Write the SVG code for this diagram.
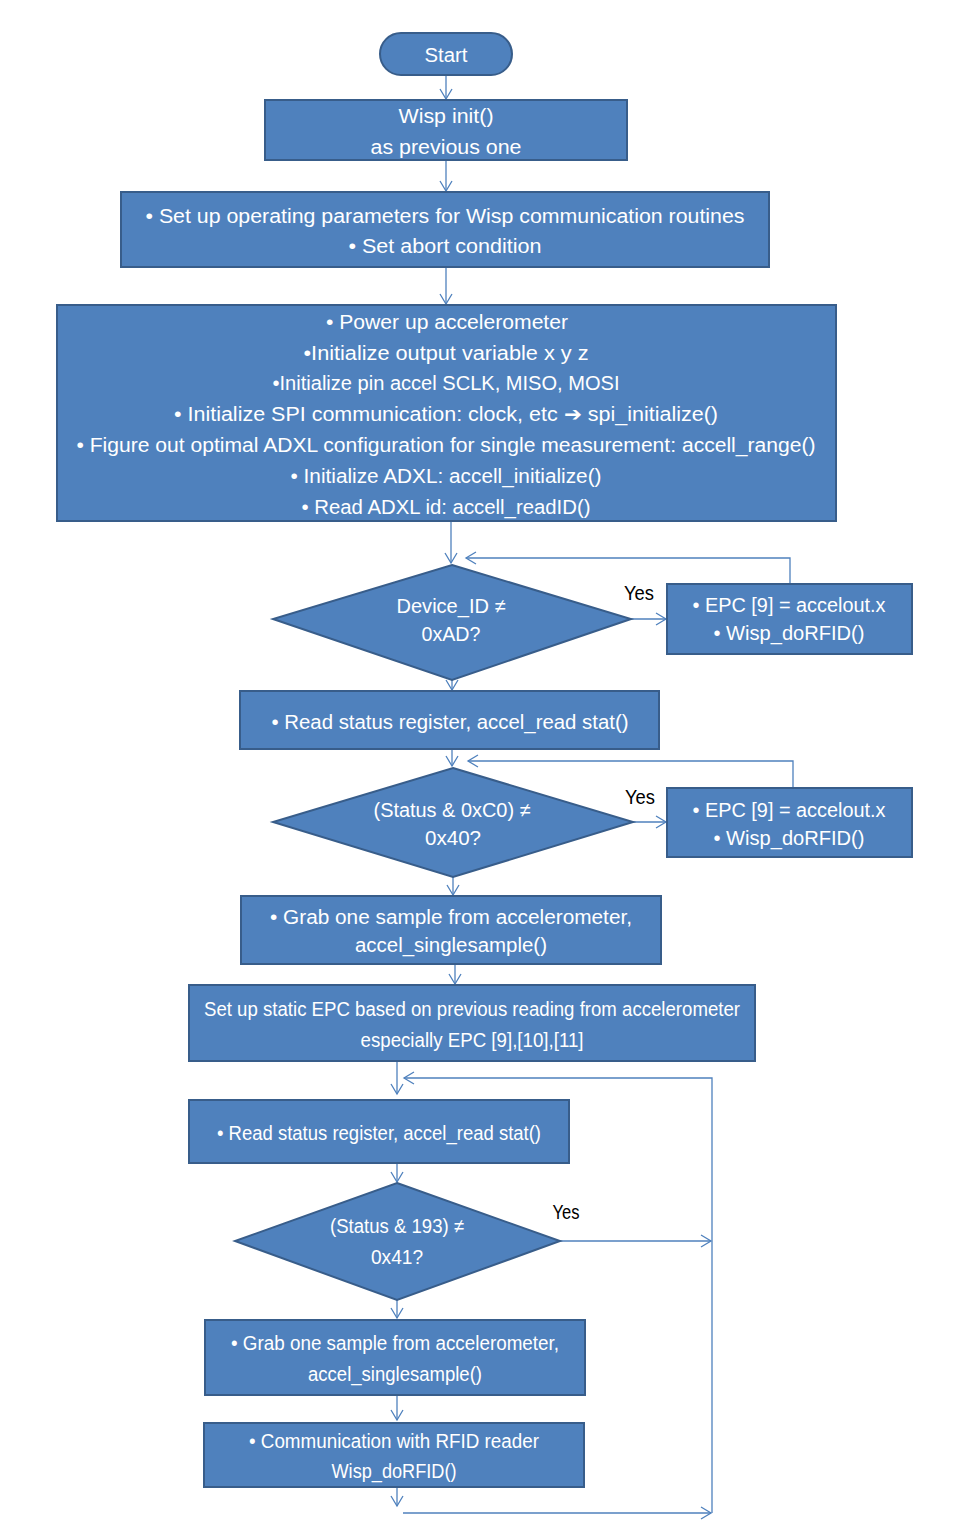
<svg xmlns="http://www.w3.org/2000/svg" width="965" height="1537" viewBox="0 0 965 1537">
<defs>
<style>
.n{fill:#4F81BD;stroke:#385D8A;stroke-width:2}
.t{font-family:"Liberation Sans",Arial,sans-serif;font-size:20px;fill:#ffffff;text-anchor:middle}
.l{font-family:"Liberation Sans",Arial,sans-serif;font-size:20px;fill:#000000;text-anchor:middle}
.c{fill:none;stroke:#4F81BD;stroke-width:1.3}
</style>
<marker id="a" markerUnits="userSpaceOnUse" markerWidth="14" markerHeight="14" viewBox="0 0 14 14" refX="12" refY="7" orient="auto">
<path d="M2,1 L12,7 L2,13" fill="none" stroke="#4F81BD" stroke-width="1.3"/>
</marker>
</defs>
<rect width="965" height="1537" fill="#ffffff"/>
<g id="connectors">
<line class="c" x1="446" y1="75" x2="446" y2="99" marker-end="url(#a)"/>
<line class="c" x1="446" y1="160" x2="446" y2="191" marker-end="url(#a)"/>
<line class="c" x1="446" y1="267" x2="446" y2="304" marker-end="url(#a)"/>
<line class="c" x1="451" y1="521" x2="451" y2="563" marker-end="url(#a)"/>
<polyline class="c" points="790,584 790,558 466,558" marker-end="url(#a)"/>
<line class="c" x1="631" y1="619" x2="666" y2="619" marker-end="url(#a)"/>
<line class="c" x1="452" y1="680" x2="452" y2="690" marker-end="url(#a)"/>
<line class="c" x1="452" y1="749" x2="452" y2="766" marker-end="url(#a)"/>
<polyline class="c" points="793,788 793,761 468,761" marker-end="url(#a)"/>
<line class="c" x1="633" y1="822" x2="666" y2="822" marker-end="url(#a)"/>
<line class="c" x1="453" y1="877" x2="453" y2="895" marker-end="url(#a)"/>
<line class="c" x1="455" y1="964" x2="455" y2="984" marker-end="url(#a)"/>
<line class="c" x1="397" y1="1061" x2="397" y2="1094" marker-end="url(#a)"/>
<polyline class="c" points="712,1513 712,1078 404,1078" marker-end="url(#a)"/>
<line class="c" x1="397" y1="1163" x2="397" y2="1182" marker-end="url(#a)"/>
<line class="c" x1="560" y1="1241" x2="711" y2="1241" marker-end="url(#a)"/>
<line class="c" x1="397" y1="1300" x2="397" y2="1318" marker-end="url(#a)"/>
<line class="c" x1="397" y1="1395" x2="397" y2="1420" marker-end="url(#a)"/>
<line class="c" x1="397" y1="1487" x2="397" y2="1506" marker-end="url(#a)"/>
<line class="c" x1="403" y1="1513" x2="711" y2="1513" marker-end="url(#a)"/>
</g>
<g id="start">
<rect class="n" x="380" y="33" width="132" height="42" rx="21" ry="21"/>
<text class="t" x="446" y="62" textLength="43" lengthAdjust="spacingAndGlyphs">Start</text>
</g>
<g id="wisp-init">
<rect class="n" x="265" y="100" width="362" height="60"/>
<text class="t" x="446" y="123" textLength="95" lengthAdjust="spacingAndGlyphs">Wisp init()</text>
<text class="t" x="446" y="154" textLength="151" lengthAdjust="spacingAndGlyphs">as  previous one</text>
</g>
<g id="setup-params">
<rect class="n" x="121" y="192" width="648" height="75"/>
<text class="t" x="445" y="223" textLength="599" lengthAdjust="spacingAndGlyphs">• Set up operating parameters for Wisp communication routines</text>
<text class="t" x="445" y="253" textLength="193" lengthAdjust="spacingAndGlyphs">• Set abort condition</text>
</g>
<g id="init-accel">
<rect class="n" x="57" y="305" width="779" height="216"/>
<text class="t" x="447" y="329" textLength="242" lengthAdjust="spacingAndGlyphs">• Power up accelerometer</text>
<text class="t" x="446" y="360" textLength="285" lengthAdjust="spacingAndGlyphs">•Initialize output variable  x y z</text>
<text class="t" x="446" y="390" textLength="347" lengthAdjust="spacingAndGlyphs">•Initialize pin accel SCLK, MISO, MOSI</text>
<text class="t" x="446" y="421" textLength="544" lengthAdjust="spacingAndGlyphs">• Initialize SPI communication: clock, etc ➔ spi_initialize()</text>
<text class="t" x="446" y="452" textLength="739" lengthAdjust="spacingAndGlyphs">• Figure out optimal ADXL configuration for single measurement: accell_range()</text>
<text class="t" x="446" y="483" textLength="311" lengthAdjust="spacingAndGlyphs">• Initialize ADXL: accell_initialize()</text>
<text class="t" x="446" y="514" textLength="289" lengthAdjust="spacingAndGlyphs">• Read ADXL id: accell_readID()</text>
</g>
<g id="dec-device-id">
<polygon class="n" points="452,565 631,619 452,680 273,619"/>
<text class="t" x="451" y="613" textLength="109" lengthAdjust="spacingAndGlyphs">Device_ID ≠</text>
<text class="t" x="451" y="641" textLength="59" lengthAdjust="spacingAndGlyphs">0xAD?</text>
</g>
<text class="l" x="639" y="600" textLength="30" lengthAdjust="spacingAndGlyphs">Yes</text>
<g id="epc1">
<rect class="n" x="667" y="584" width="245" height="70"/>
<text class="t" x="789" y="612" textLength="193" lengthAdjust="spacingAndGlyphs">• EPC [9] = accelout.x</text>
<text class="t" x="789" y="640" textLength="151" lengthAdjust="spacingAndGlyphs">• Wisp_doRFID()</text>
</g>
<g id="read-status1">
<rect class="n" x="240" y="691" width="419" height="58"/>
<text class="t" x="450" y="729" textLength="357" lengthAdjust="spacingAndGlyphs">• Read status register, accel_read stat()</text>
</g>
<g id="dec-status1">
<polygon class="n" points="453,768 633,822 453,877 273,822"/>
<text class="t" x="452" y="817" textLength="157" lengthAdjust="spacingAndGlyphs">(Status &amp; 0xC0) ≠</text>
<text class="t" x="453" y="845" textLength="56" lengthAdjust="spacingAndGlyphs">0x40?</text>
</g>
<text class="l" x="640" y="804" textLength="30" lengthAdjust="spacingAndGlyphs">Yes</text>
<g id="epc2">
<rect class="n" x="667" y="788" width="245" height="69"/>
<text class="t" x="789" y="817" textLength="193" lengthAdjust="spacingAndGlyphs">• EPC [9] = accelout.x</text>
<text class="t" x="789" y="845" textLength="151" lengthAdjust="spacingAndGlyphs">• Wisp_doRFID()</text>
</g>
<g id="grab1">
<rect class="n" x="241" y="896" width="420" height="68"/>
<text class="t" x="451" y="924" textLength="362" lengthAdjust="spacingAndGlyphs">• Grab one sample from accelerometer,</text>
<text class="t" x="451" y="952" textLength="192" lengthAdjust="spacingAndGlyphs">accel_singlesample()</text>
</g>
<g id="static-epc">
<rect class="n" x="189" y="985" width="566" height="76"/>
<text class="t" x="472" y="1016" textLength="536" lengthAdjust="spacingAndGlyphs">Set up static EPC based on previous reading from accelerometer</text>
<text class="t" x="472" y="1047" textLength="223" lengthAdjust="spacingAndGlyphs">especially EPC [9],[10],[11]</text>
</g>
<g id="read-status2">
<rect class="n" x="189" y="1100" width="380" height="63"/>
<text class="t" x="379" y="1140" textLength="324" lengthAdjust="spacingAndGlyphs">• Read status register, accel_read stat()</text>
</g>
<g id="dec-status2">
<polygon class="n" points="397,1183 560,1241 397,1300 235,1241"/>
<text class="t" x="397" y="1233" textLength="134" lengthAdjust="spacingAndGlyphs">(Status &amp; 193) ≠</text>
<text class="t" x="397" y="1264" textLength="52" lengthAdjust="spacingAndGlyphs">0x41?</text>
</g>
<text class="l" x="566" y="1219" textLength="27" lengthAdjust="spacingAndGlyphs">Yes</text>
<g id="grab2">
<rect class="n" x="205" y="1320" width="380" height="75"/>
<text class="t" x="395" y="1350" textLength="328" lengthAdjust="spacingAndGlyphs">• Grab one sample from accelerometer,</text>
<text class="t" x="395" y="1381" textLength="174" lengthAdjust="spacingAndGlyphs">accel_singlesample()</text>
</g>
<g id="comm-rfid">
<rect class="n" x="204" y="1423" width="380" height="64"/>
<text class="t" x="394" y="1448" textLength="290" lengthAdjust="spacingAndGlyphs">• Communication with RFID reader</text>
<text class="t" x="394" y="1478" textLength="125" lengthAdjust="spacingAndGlyphs">Wisp_doRFID()</text>
</g>
</svg>
